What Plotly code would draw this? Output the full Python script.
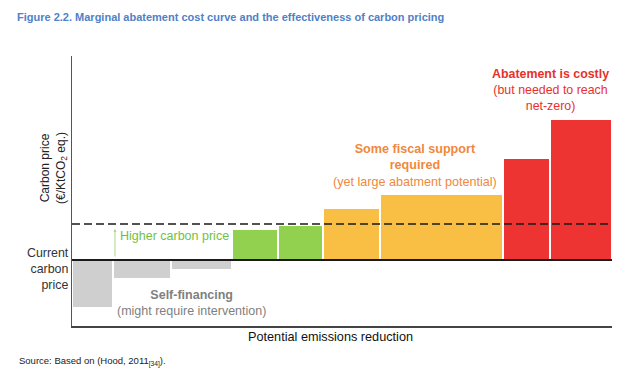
import numpy as np
import plotly.graph_objects as go

# ---- data (units are arbitrary, relative) ----
categories = ["Self-financing 1", "Self-financing 2", "Self-financing 3",
              "Carbon price 1", "Carbon price 2",
              "Fiscal support 1", "Fiscal support 2",
              "Costly 1", "Costly 2"]
potential = [41, 58, 61, 46, 44.5, 57.5, 123, 46.5, 62.5]   # bar widths
cost = [-48, -19, -10, 31, 35, 52, 66, 102, 141]              # bar heights
groups = ["self", "self", "self", "green", "green", "fiscal", "fiscal", "costly", "costly"]
current_price = 0
higher_price = 36

group_colors = {"self": "#d0cfcf", "green": "#92d050", "fiscal": "#f9bf45", "costly": "#ee3433"}

W, H = 639, 384
L, R, T, B = 72, 27, 56, 58
pw, ph = W - L - R, H - T - B

widths = np.array(potential, dtype=float)
centers = np.cumsum(widths) - widths / 2
total = widths.sum()

fig = go.Figure()
fig.add_trace(go.Bar(
    x=centers, y=cost, width=widths,
    marker=dict(color=[group_colors[g] for g in groups], line=dict(color="white", width=2)),
    hovertext=categories, showlegend=False,
))

fig.add_shape(type="line", xref="x", yref="y", x0=0, x1=total, y0=current_price, y1=current_price,
              line=dict(color="#1a1a1a", width=2), layer="above")
fig.add_shape(type="line", xref="x", yref="y", x0=0, x1=total, y0=higher_price, y1=higher_price,
              line=dict(color="#1a1a1a", width=1.5, dash="8px,4px"), layer="above")

def px(xp):
    return (xp - L) / pw

def py(yp):
    return (H - B - yp) / ph

font = "Liberation Sans, Arial, sans-serif"
ann = []
# title
ann.append(dict(text="<b>Figure 2.2. Marginal abatement cost curve and the effectiveness of carbon pricing</b>",
                xref="paper", yref="paper", x=px(15), y=py(17), xanchor="left", yanchor="middle",
                showarrow=False, font=dict(family=font, size=11, color="#4f81c7")))
# source
ann.append(dict(text="Source: Based on (Hood, 2011<sub>[34]</sub>).",
                xref="paper", yref="paper", x=px(17), y=py(361), xanchor="left", yanchor="middle",
                showarrow=False, font=dict(family=font, size=9.5, color="#222222")))
# x axis title
ann.append(dict(text="Potential emissions reduction", xref="paper", yref="paper",
                x=px(330), y=py(337), xanchor="center", yanchor="middle", showarrow=False,
                font=dict(family=font, size=12.7, color="#111111")))
# y axis title
ann.append(dict(text="Carbon price<br>(€/KtCO<sub>2</sub> eq.)", xref="paper", yref="paper",
                x=px(53), y=py(168), xanchor="center", yanchor="middle", textangle=-90,
                showarrow=False, font=dict(family=font, size=12, color="#222222")))
# current carbon price
ann.append(dict(text="Current<br>carbon<br>price", xref="paper", yref="paper",
                x=px(71), y=py(269), xanchor="right", yanchor="middle", align="right",
                showarrow=False, font=dict(family=font, size=12.4, color="#333333")))
# self-financing
ann.append(dict(text="<b>Self-financing</b><br>(might require intervention)", xref="paper", yref="paper",
                x=px(191), y=py(303), xanchor="center", yanchor="middle", align="center",
                showarrow=False, font=dict(family=font, size=12.5, color="#7f7f7f")))
# higher carbon price arrow + text
ann.append(dict(text="", xref="paper", yref="paper", axref="pixel", ayref="pixel",
                x=px(115), y=py(229), ax=0, ay=29, showarrow=True, arrowhead=2,
                arrowsize=0.6, arrowwidth=1, arrowcolor="#a9d98b"))
ann.append(dict(text="Higher carbon price", xref="paper", yref="paper",
                x=px(118), y=py(236), xanchor="left", yanchor="middle",
                showarrow=False, font=dict(family=font, size=12.5, color="#74bf3f")))
# fiscal support
ann.append(dict(text="<b>Some fiscal support<br>required</b><br>(yet large abatment potential)",
                xref="paper", yref="paper", x=px(415), y=py(165), xanchor="center", yanchor="middle",
                align="center", showarrow=False, font=dict(family=font, size=12.6, color="#f0883e")))
# costly
ann.append(dict(text="<b>Abatement is costly</b><br>(but needed to reach<br>net-zero)",
                xref="paper", yref="paper", x=px(550), y=py(90), xanchor="center", yanchor="middle",
                align="center", showarrow=False, font=dict(family=font, size=12.4, color="#e8302c")))

fig.update_layout(
    width=W, height=H, margin=dict(l=L, r=R, t=T, b=B),
    paper_bgcolor="white", plot_bgcolor="white",
    bargap=0, annotations=ann,
    xaxis=dict(range=[0, total], showgrid=False, zeroline=False, showticklabels=False, ticks="",
               showline=True, linecolor="#444444", linewidth=1.5),
    yaxis=dict(range=[-66, 204.3], showgrid=False, zeroline=False, showticklabels=False, ticks="",
               showline=True, linecolor="#555555", linewidth=1.2),
)

fig.write_html("out.html", config={"displayModeBar": False},
               post_script="document.body.style.margin='0';")
